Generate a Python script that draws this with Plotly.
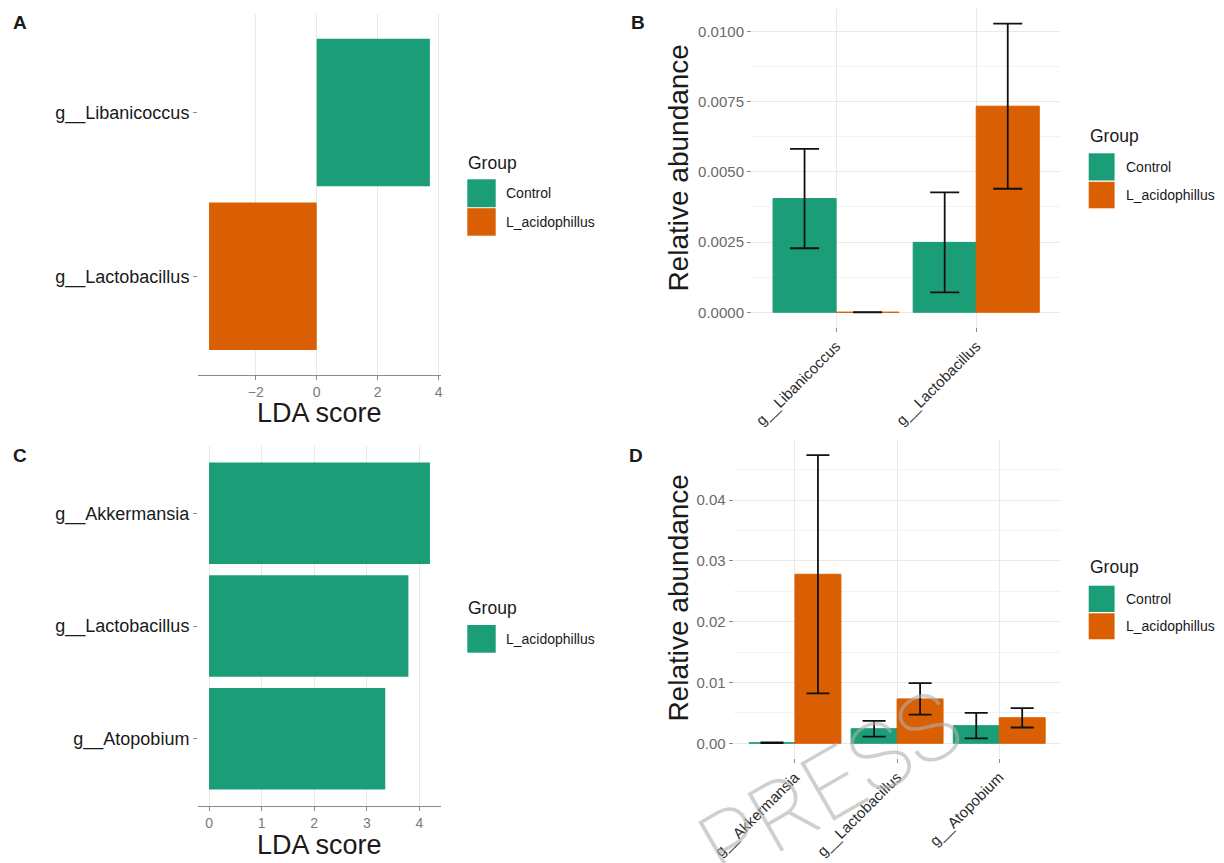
import plotly.graph_objects as go

# ---------------- data ----------------
# Panel A: LDA scores (Control vs L_acidophillus)
lda_a_taxa = ["g__Libanicoccus", "g__Lactobacillus"]
lda_a_group = ["Control", "L_acidophillus"]
lda_a_score = [3.71, -3.53]

# Panel C: LDA scores (single enriched group)
lda_c_taxa = ["g__Akkermansia", "g__Lactobacillus", "g__Atopobium"]
lda_c_score = [4.20, 3.79, 3.35]

# Panel B: relative abundance, mean and error
abund_b_taxa = ["g__Libanicoccus", "g__Lactobacillus"]
abund_b_control = [0.00405, 0.00249]
abund_b_control_err = [0.00177, 0.00178]
abund_b_lacid = [0.0, 0.00734]
abund_b_lacid_err = [0.0, 0.00294]

# Panel D: relative abundance, mean and error
abund_d_taxa = ["g__Akkermansia", "g__Lactobacillus", "g__Atopobium"]
abund_d_control = [0.0001, 0.0024, 0.0029]
abund_d_control_err = [0.00005, 0.0013, 0.0021]
abund_d_lacid = [0.0278, 0.0073, 0.0042]
abund_d_lacid_err = [0.0196, 0.0026, 0.0016]

groups = ["Control", "L_acidophillus"]

# ---------------- styling ----------------
W, H = 1224, 863
GREEN = "#1B9E77"
ORANGE = "#D95F02"
COLORS = {"Control": GREEN, "L_acidophillus": ORANGE}
FONT = "Liberation Sans, Arial, Helvetica, sans-serif"
GRID = "#e9e9e9"
MINOR_GRID = "#f2f2f2"
TICK_GREY = "#7a7a7a"
TEXT = "#1a1a1a"


def fx(x):
    return x / W


def fy(y):
    return 1 - y / H


def expand(lo, hi, frac=0.05):
    span = hi - lo
    return [lo - frac * span, hi + frac * span]


fig = go.Figure()

# ---- Panel A: horizontal LDA bars ----
for g in groups:
    ys = [t for t, gg in zip(lda_a_taxa, lda_a_group) if gg == g]
    xs = [s for s, gg in zip(lda_a_score, lda_a_group) if gg == g]
    fig.add_trace(go.Bar(
        x=xs, y=ys, orientation="h", name=g,
        marker=dict(color=COLORS[g], line=dict(width=0)),
        width=0.9, offset=-0.45, xaxis="x", yaxis="y", showlegend=False,
    ))

# ---- Panel C: horizontal LDA bars (drawn in the first palette colour) ----
fig.add_trace(go.Bar(
    x=lda_c_score, y=lda_c_taxa, orientation="h", name="L_acidophillus",
    marker=dict(color=GREEN, line=dict(width=0)),
    width=0.9, offset=-0.45, xaxis="x3", yaxis="y3", showlegend=False,
))

# ---- Panel B: grouped bars with error bars ----
for g, vals, errs in [("Control", abund_b_control, abund_b_control_err),
                      ("L_acidophillus", abund_b_lacid, abund_b_lacid_err)]:
    fig.add_trace(go.Bar(
        x=abund_b_taxa, y=vals, name=g,
        marker=dict(color=COLORS[g], line=dict(color=COLORS[g], width=1)),
        error_y=dict(type="data", array=errs, visible=True, color="#111111",
                     thickness=1.8, width=14.5),
        xaxis="x2", yaxis="y2", showlegend=False,
    ))

# ---- Panel D: grouped bars with error bars ----
for g, vals, errs in [("Control", abund_d_control, abund_d_control_err),
                      ("L_acidophillus", abund_d_lacid, abund_d_lacid_err)]:
    fig.add_trace(go.Bar(
        x=abund_d_taxa, y=vals, name=g,
        marker=dict(color=COLORS[g], line=dict(color=COLORS[g], width=1)),
        error_y=dict(type="data", array=errs, visible=True, color="#111111",
                     thickness=1.8, width=11.5),
        xaxis="x4", yaxis="y4", showlegend=False,
    ))

# ---------------- axes ----------------
a_range = expand(min(lda_a_score + [0]), max(lda_a_score + [0]))
c_range = expand(min(lda_c_score + [0]), max(lda_c_score + [0]))
b_top = max([v + e for v, e in zip(abund_b_control + abund_b_lacid,
                                    abund_b_control_err + abund_b_lacid_err)])
d_top = max([v + e for v, e in zip(abund_d_control + abund_d_lacid,
                                    abund_d_control_err + abund_d_lacid_err)])
b_range = expand(0, b_top)
d_range = expand(0, d_top)

lda_xaxis = dict(
    showgrid=True, gridcolor=GRID, gridwidth=1, zeroline=False,
    showline=True, linecolor="#8a8a8a", linewidth=1.2,
    ticks="outside", ticklen=4, tickcolor="#8a8a8a",
    tickfont=dict(family=FONT, size=14, color=TICK_GREY),
    automargin=False,
)
lda_yaxis = dict(
    type="category", showgrid=False, zeroline=False, showline=False,
    ticks="outside", ticklen=4, tickcolor="#8a8a8a",
    tickfont=dict(family=FONT, size=18, color=TEXT),
    automargin=False,
)
abund_xaxis = dict(
    type="category", showgrid=True, gridcolor=GRID, gridwidth=1,
    showline=False, zeroline=False,
    ticks="outside", ticklen=4, tickcolor="#8a8a8a",
    tickangle=-45, tickfont=dict(family=FONT, size=15, color="#2a2a2a"),
    automargin=False,
)
abund_yaxis = dict(
    showgrid=True, gridcolor=GRID, gridwidth=1.2, zeroline=False, showline=False,
    ticks="outside", ticklen=4, tickcolor="#8a8a8a",
    tickfont=dict(family=FONT, size=15, color="#6a6a6a"),
    automargin=False,
)

fig.update_layout(
    width=W, height=H,
    margin=dict(l=0, r=0, t=0, b=0),
    paper_bgcolor="white", plot_bgcolor="white",
    barmode="group", bargap=0.1, bargroupgap=0,
    showlegend=False,
    xaxis=dict(lda_xaxis, domain=[fx(198.0), fx(440.9)], range=a_range,
               tickvals=[-2, 0, 2, 4], anchor="y"),
    yaxis=dict(lda_yaxis, domain=[fy(374.6), fy(14.2)],
               categoryorder="array", categoryarray=lda_a_taxa[::-1],
               range=[-0.6, len(lda_a_taxa) - 0.4], anchor="x"),
    xaxis3=dict(lda_xaxis, domain=[fx(198.0), fx(441.0)], range=c_range,
                tickvals=[0, 1, 2, 3, 4], anchor="y3"),
    yaxis3=dict(lda_yaxis, domain=[fy(806.3), fy(445.7)],
                categoryorder="array", categoryarray=lda_c_taxa[::-1],
                range=[-0.6, len(lda_c_taxa) - 0.4], anchor="x3"),
    xaxis2=dict(abund_xaxis, domain=[fx(752.0), fx(1060.3)],
                categoryorder="array", categoryarray=abund_b_taxa,
                range=[-0.6, len(abund_b_taxa) - 0.4], anchor="y2"),
    yaxis2=dict(abund_yaxis, domain=[fy(326.7), fy(9.2)], range=b_range,
                tickvals=[0, 0.0025, 0.005, 0.0075, 0.01], tickformat=".4f",
                minor=dict(tick0=0, dtick=0.00125, showgrid=True,
                           gridcolor=MINOR_GRID, gridwidth=1),
                anchor="x2"),
    xaxis4=dict(abund_xaxis, domain=[fx(733.7), fx(1060.5)],
                categoryorder="array", categoryarray=abund_d_taxa,
                range=[-0.6, len(abund_d_taxa) - 0.4], anchor="y4"),
    yaxis4=dict(abund_yaxis, domain=[fy(757.7), fy(440.7)], range=d_range,
                tickvals=[0, 0.01, 0.02, 0.03, 0.04], tickformat=".2f",
                minor=dict(tick0=0, dtick=0.005, showgrid=True,
                           gridcolor=MINOR_GRID, gridwidth=1),
                anchor="x4"),
)

annotations = []
shapes = []


def text(x, y, s, size, color=TEXT, bold=False, xanchor="center", angle=0):
    annotations.append(dict(
        x=fx(x), y=fy(y), xref="paper", yref="paper",
        text=f"<b>{s}</b>" if bold else s,
        showarrow=False, xanchor=xanchor, yanchor="middle", textangle=angle,
        font=dict(family=FONT, size=size, color=color), borderpad=0,
    ))


# panel tags
text(20, 22, "A", 19, bold=True)
text(638, 23, "B", 19, bold=True)
text(20, 455, "C", 19, bold=True)
text(636, 455, "D", 19, bold=True)

# axis titles
text(319, 413, "LDA score", 27)
text(319, 845, "LDA score", 27)
text(677.6, 168, "Relative abundance", 28, angle=-90)
text(677.6, 598, "Relative abundance", 28, angle=-90)


def legend(x_key0, x_key1, x_label, y_title, key_rows, title_size=17.5, label_size=14):
    text(x_key0, y_title, "Group", title_size, xanchor="left")
    for name, color, y0, y1 in key_rows:
        shapes.append(dict(type="rect", xref="paper", yref="paper",
                           x0=fx(x_key0), x1=fx(x_key1), y0=fy(y1), y1=fy(y0),
                           fillcolor=color, line=dict(width=0)))
        text(x_label, (y0 + y1) / 2, name, label_size, xanchor="left")


legend(467.3, 495.7, 505, 162.7,
       [("Control", GREEN, 179.3, 207.2), ("L_acidophillus", ORANGE, 208.2, 235.7)])
legend(1088.7, 1114.6, 1125.3, 136,
       [("Control", GREEN, 153.3, 180.5), ("L_acidophillus", ORANGE, 181.8, 208.3)])
legend(467.3, 495.7, 505, 608.3,
       [("L_acidophillus", GREEN, 625, 652.7)])
legend(1088.7, 1114.6, 1125.3, 567.3,
       [("Control", GREEN, 585.7, 612.0), ("L_acidophillus", ORANGE, 613.3, 639.3)])

# watermark in a light typeface
annotations.append(dict(
    x=fx(830), y=fy(786), xref="paper", yref="paper", text="PRESS",
    showarrow=False, xanchor="center", yanchor="middle", textangle=-30,
    font=dict(family="Roboto, Lato, Inter, sans-serif", size=94, weight=200,
              color="rgba(175,175,175,0.6)"),
))

fig.update_layout(annotations=annotations, shapes=shapes)
fig.write_html("out.html")
